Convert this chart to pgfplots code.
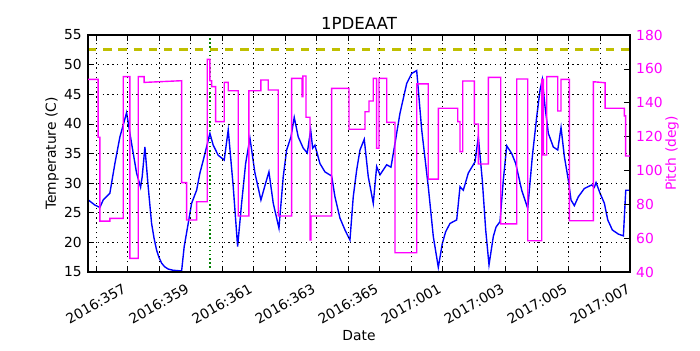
\documentclass[border=0pt]{standalone}
\usepackage{pgfplots}
\pgfplotsset{compat=1.18}
\usepackage{pgfplotstable}
\usepackage{fontspec}
\setmainfont{DejaVu Sans}
\definecolor{mag}{RGB}{255,0,255}
\definecolor{bl}{RGB}{0,0,255}
\definecolor{yel}{RGB}{191,191,0}
\definecolor{grn}{RGB}{0,128,0}

\pgfplotstableread{
day temp
-0.25 27.2
-0.032 26.3
0.127 25.9
0.232 27.15
0.444 28.3
0.603 33.3
0.762 37.8
0.867 39.8
0.975 41.9
1.133 36.7
1.292 31.7
1.419 29.3
1.470 31.1
1.556 36.1
1.660 29.4
1.768 23.2
1.850 20.6
1.927 18.7
2.000 17.5
2.086 16.5
2.180 15.9
2.295 15.5
2.450 15.3
2.667 15.2
2.721 15.2
2.803 19.3
2.930 23.2
3.038 26.6
3.197 28.8
3.302 31.7
3.438 34.5
3.619 38.4
3.724 36.4
3.883 34.7
4.073 33.9
4.200 39.0
4.359 29.4
4.498 19.3
4.625 26.6
4.752 33.3
4.889 37.6
5.048 31.7
5.238 27.15
5.387 30.0
5.492 31.9
5.629 26.6
5.810 22.4
5.946 31.1
6.054 35.6
6.190 37.8
6.295 41.1
6.422 37.8
6.581 35.9
6.708 35.1
6.816 39.0
6.879 35.9
6.952 36.4
7.111 33.3
7.270 31.9
7.483 31.2
7.587 27.7
7.746 24.1
7.905 22.1
8.063 20.4
8.168 27.7
8.276 32.2
8.381 35.6
8.517 37.4
8.644 31.1
8.803 26.6
8.911 32.8
9.016 31.4
9.229 33.1
9.365 32.7
9.492 36.7
9.651 41.8
9.863 46.8
10.022 48.5
10.181 49.0
10.340 39.0
10.549 29.4
10.708 21.0
10.867 15.8
10.994 19.8
11.100 21.8
11.238 23.2
11.451 23.8
11.556 29.4
11.660 28.8
11.819 31.7
12.032 33.6
12.137 37.8
12.263 30.5
12.371 22.1
12.476 16.2
12.613 21.0
12.700 22.6
12.825 23.5
12.930 30.5
13.038 36.3
13.197 35.0
13.324 33.3
13.514 28.8
13.705 25.75
13.851 34.5
13.990 41.2
14.095 45.7
14.168 47.5
14.254 42.9
14.359 38.4
14.517 36.1
14.657 35.6
14.762 39.4
14.867 34.5
14.994 30.5
15.079 27.15
15.184 26.2
15.311 27.7
15.502 29.1
15.737 29.7
15.819 29.3
15.873 30.1
16.000 28.3
16.137 26.6
16.244 23.8
16.390 22.1
16.581 21.4
16.740 21.1
16.816 28.8
16.95 28.8
}\temptable

\pgfplotstableread{
day pitch
-0.25 153.8
0.073 153.8
0.073 119.6
0.127 119.6
0.127 70.1
0.444 70.1
0.444 71.7
0.867 71.7
0.867 155.4
1.079 155.4
1.079 48.1
1.343 48.1
1.343 155.4
1.533 155.4
1.533 152.0
2.721 153.0
2.721 92.8
2.879 92.8
2.879 70.7
3.197 70.7
3.197 81.5
3.533 81.5
3.533 165.6
3.619 165.6
3.619 153.0
3.673 153.0
3.673 149.5
3.800 149.5
3.800 128.8
4.073 128.8
4.073 152.0
4.200 152.0
4.200 147.1
4.517 147.1
4.517 73.1
4.857 73.1
4.857 147.1
5.238 147.1
5.238 153.4
5.470 153.4
5.470 147.5
5.787 147.5
5.787 73.1
6.213 73.1
6.213 154.4
6.540 154.4
6.540 143.6
6.571 143.6
6.571 155.8
6.667 155.8
6.667 131.4
6.794 131.4
6.794 58.9
6.825 58.9
6.825 73.1
7.483 73.1
7.483 148.5
8.032 148.5
8.032 124.3
8.540 124.3
8.540 134.7
8.667 134.7
8.667 141.0
8.803 141.0
8.803 154.4
8.911 154.4
8.911 113.1
8.984 113.1
8.984 154.4
9.229 154.4
9.229 128.4
9.492 128.4
9.492 51.4
10.181 51.4
10.181 151.1
10.549 151.1
10.549 94.9
10.867 94.9
10.867 136.7
11.483 136.7
11.483 128.8
11.556 128.8
11.556 111.1
11.641 111.1
11.641 152.8
12.010 152.8
12.010 127.4
12.137 127.4
12.137 103.8
12.454 103.8
12.454 155.0
12.848 155.0
12.848 68.4
13.356 68.4
13.356 154.0
13.705 154.0
13.705 58.5
14.149 58.5
14.149 153.8
14.200 153.8
14.200 109.1
14.308 109.1
14.308 155.4
14.657 155.4
14.657 135.1
14.762 135.1
14.762 153.8
15.025 153.8
15.025 70.3
15.787 70.3
15.787 152.4
16.159 151.8
16.159 136.7
16.771 136.7
16.771 132.2
16.810 132.2
16.810 108.5
16.95 108.5
}\pitchtable

\begin{document}
\begin{tikzpicture}
\begin{axis}[
  name=ax,
  scale only axis,
  width=391.7pt, height=171.3pt,
  xmin=-0.25, xmax=16.95,
  ymin=15, ymax=55,
  xtick={0,2,...,16},
  minor xtick={1,3,...,15},
  xticklabels={2016:357,2016:359,2016:361,2016:363,2016:365,2017:001,2017:003,2017:005,2017:007},
  ytick={15,20,...,55},
  grid=both,
  grid style={black, line width=0.5pt, dash pattern=on 1pt off 2.5pt},
  major grid style={black, line width=0.5pt, dash pattern=on 1pt off 2.5pt},
  minor grid style={black, line width=0.5pt, dash pattern=on 1pt off 2.5pt},
  tick align=inside,
  ytick pos=left,
  xtick pos=both,
  major tick length=4pt,
  minor tick length=4pt,
  tick style={black, line width=0.5pt},
  axis line style={black, line width=0.8pt},
  axis on top,
  tick label style={font=\fontsize{10}{12}\selectfont},
  /pgf/number format/assume math mode=true,
  yticklabel style={anchor=east, inner sep=0pt, xshift=-4.3pt},
  xticklabel style={yshift=-23pt, rotate=30, anchor=center, inner sep=0pt},
]
\addplot[yel, line width=2pt, forget plot] coordinates {(-0.25,55) (16.95,55)};
\addplot[yel, line width=2pt, dash pattern=on 6pt off 5pt] coordinates {(-0.25,52.5) (16.95,52.5)};
\addplot[grn, line width=1pt, dash pattern=on 1pt off 2pt] coordinates {(3.62,15) (3.62,55)};
\addplot[bl, line width=1pt] table[x=day, y=temp] {\temptable};
\end{axis}
\begin{axis}[
  at={(ax.south west)}, anchor=south west,
  scale only axis,
  width=391.7pt, height=171.3pt,
  xmin=-0.25, xmax=16.95,
  ymin=40, ymax=180,
  ytick={40,60,...,180},
  hide x axis,
  axis y line*=right,
  axis line style={-, black, line width=0.8pt},
  tick align=inside,
  major tick length=4pt,
  tick style={black, line width=0.5pt},
  tick label style={font=\fontsize{10}{12}\selectfont},
  /pgf/number format/assume math mode=true,
  yticklabel style={anchor=west, inner sep=0pt, xshift=4.3pt, text=mag},
]
\addplot[mag, line width=1pt] table[x=day, y=pitch] {\pitchtable};
\end{axis}
\node[anchor=base, font=\fontsize{12}{14}\selectfont] at ([yshift=3.8pt]ax.north) {1PDEAAT};
\node[rotate=90, anchor=center, font=\fontsize{10}{12}\selectfont] at ([xshift=-26pt]ax.west) {Temperature (C)};
\node[rotate=90, anchor=center, font=\fontsize{10}{12}\selectfont, text=mag] at ([xshift=30.4pt]ax.east) {Pitch (deg)};
\node[anchor=center, font=\fontsize{10}{12}\selectfont] at ([yshift=-46pt]ax.south) {Date};
\pgfresetboundingbox
\path[use as bounding box] ([shift={(-63.6pt,-56.4pt)}]ax.south west) rectangle ([shift={(50.6pt,25.3pt)}]ax.north east);
\end{tikzpicture}
\end{document}
